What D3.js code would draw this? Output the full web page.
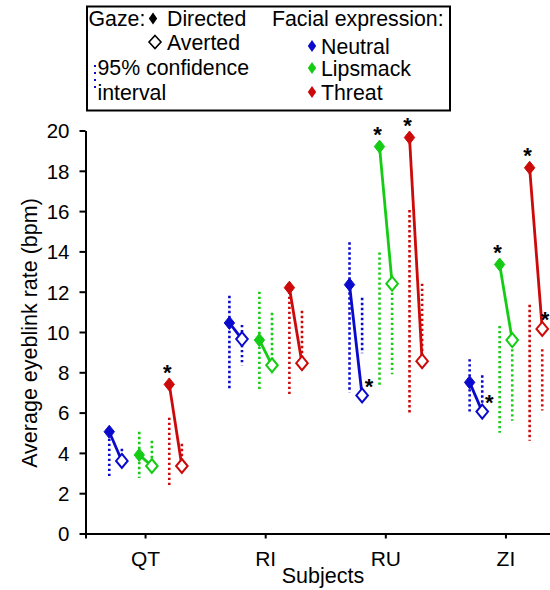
<!DOCTYPE html>
<html>
<head>
<meta charset="utf-8">
<script src="https://cdn.jsdelivr.net/npm/d3@7"></script>
<style>
  html, body { margin: 0; padding: 0; background: #fff; }
  svg { display: block; }
  text { font-family: "Liberation Sans", Arial, sans-serif; fill: #000; }
</style>
</head>
<body>
<svg id="chart" width="550" height="590"></svg>
<script>
// ---------- DATA ----------
const subjects = ["QT", "RI", "RU", "ZI"];
const expressions = ["Neutral", "Lipsmack", "Threat"];
const gazes = ["Directed", "Averted"];
const yTicks = [0, 2, 4, 6, 8, 10, 12, 14, 16, 18, 20];

const neutralDirected   = [5.05, 10.45, 12.35, 7.5];
const neutralAverted    = [3.6, 9.65, 6.85, 6.05];
const lipsmackDirected  = [3.9, 9.6, 19.2, 13.35];
const lipsmackAverted   = [3.35, 8.35, 12.4, 9.6];
const threatDirected    = [7.4, 12.2, 19.65, 18.15];
const threatAverted     = [3.35, 8.45, 8.55, 10.15];

const neutralDirectedCI  = [[2.8, 5.2], [7.2, 11.8], [7.0, 14.45], [6.0, 8.65]];
const neutralAvertedCI   = [[3.4, 4.2], [8.35, 10.35], [8.95, 11.7], [6.3, 7.85]];
const lipsmackDirectedCI = [[2.75, 5.05], [7.1, 12.0], [7.3, 13.95], [5.0, 10.3]];
const lipsmackAvertedCI  = [[3.2, 4.6], [7.95, 10.95], [7.9, 11.95], [5.6, 9.15]];
const threatDirectedCI   = [[2.3, 5.75], [6.9, 12.0], [6.0, 16.05], [4.6, 11.35]];
const threatAvertedCI    = [[3.3, 4.45], [8.3, 11.05], [8.6, 12.4], [6.1, 9.15]];

const significant = [
  ["QT", "Threat", "Directed"],
  ["RU", "Neutral", "Averted"],
  ["RU", "Lipsmack", "Directed"],
  ["RU", "Threat", "Directed"],
  ["ZI", "Neutral", "Averted"],
  ["ZI", "Lipsmack", "Directed"],
  ["ZI", "Threat", "Directed"],
  ["ZI", "Threat", "Averted"]
];

// ---------- BUILD TABLE ----------
const means = {
  Neutral: { Directed: neutralDirected, Averted: neutralAverted },
  Lipsmack: { Directed: lipsmackDirected, Averted: lipsmackAverted },
  Threat: { Directed: threatDirected, Averted: threatAverted }
};
const cis = {
  Neutral: { Directed: neutralDirectedCI, Averted: neutralAvertedCI },
  Lipsmack: { Directed: lipsmackDirectedCI, Averted: lipsmackAvertedCI },
  Threat: { Directed: threatDirectedCI, Averted: threatAvertedCI }
};
const colors = { Neutral: "#0a0acc", Lipsmack: "#14cc14", Threat: "#cc0a0a" };

const rows = [];
subjects.forEach((s, i) => {
  expressions.forEach(e => {
    gazes.forEach(g => {
      rows.push({ subject: s, expr: e, gaze: g, value: means[e][g][i], lo: cis[e][g][i][0], hi: cis[e][g][i][1] });
    });
  });
});

// ---------- SCALES ----------
const svg = d3.select("#chart");
const x = d3.scaleBand().domain(subjects).range([85.5, 566]);
const xExpr = d3.scalePoint().domain(expressions).range([-30, 30]);
const xGaze = d3.scalePoint().domain(gazes).range([-6.3, 6.3]);
const y = d3.scaleLinear().domain([0, 20]).range([533.5, 130.5]);

const px = d => x(d.subject) + x.bandwidth() / 2 + xExpr(d.expr) + xGaze(d.gaze);
const py = d => y(d.value);

function diamond(cx, cy, w, h) {
  return `M${cx},${cy - h}L${cx + w},${cy}L${cx},${cy + h}L${cx - w},${cy}Z`;
}

// ---------- AXES ----------
const yAxis = svg.append("g")
  .attr("transform", "translate(85.5,0)")
  .call(d3.axisLeft(y).tickValues(yTicks).tickSize(6).tickSizeOuter(0).tickPadding(10));
yAxis.selectAll("text").style("font-size", "20.5px").attr("dy", "0.36em");
yAxis.selectAll("path,line").attr("stroke", "#000").attr("stroke-width", 2);

const xAxis = svg.append("g")
  .attr("transform", "translate(0,533.5)")
  .call(d3.axisBottom(x).tickSize(5).tickSizeOuter(5));
xAxis.selectAll("text").style("font-size", "21px").attr("dy", null).attr("y", 32);
xAxis.selectAll("path,line").attr("stroke", "#000").attr("stroke-width", 2);

svg.append("text").attr("x", 323).attr("y", 583).attr("text-anchor", "middle")
  .style("font-size", "21.5px").text("Subjects");
svg.append("text").attr("transform", "translate(37,333) rotate(-90)").attr("text-anchor", "middle")
  .style("font-size", "21.5px").text("Average eyeblink rate (bpm)");

// ---------- MARKS ----------
const plot = svg.append("g");

// CIs
plot.selectAll("line.ci").data(rows).join("line")
  .attr("class", "ci")
  .attr("x1", px).attr("x2", px)
  .attr("y1", d => y(d.hi)).attr("y2", d => y(d.lo))
  .attr("stroke", d => colors[d.expr])
  .attr("stroke-width", 2.6)
  .attr("stroke-dasharray", "2.4,2.6");

// connecting lines
const pairs = [];
subjects.forEach(s => expressions.forEach(e => {
  const d0 = rows.find(r => r.subject === s && r.expr === e && r.gaze === "Directed");
  const d1 = rows.find(r => r.subject === s && r.expr === e && r.gaze === "Averted");
  pairs.push([d0, d1]);
}));
plot.selectAll("line.pair").data(pairs).join("line")
  .attr("class", "pair")
  .attr("x1", p => px(p[0])).attr("y1", p => py(p[0]))
  .attr("x2", p => px(p[1])).attr("y2", p => py(p[1]))
  .attr("stroke", p => colors[p[0].expr])
  .attr("stroke-width", 2.8);

// markers
plot.selectAll("path.mk").data(rows).join("path")
  .attr("class", "mk")
  .attr("d", d => d.gaze === "Directed" ? diamond(px(d), py(d), 5.2, 6.5) : diamond(px(d), py(d), 5.8, 7))
  .attr("fill", d => d.gaze === "Directed" ? colors[d.expr] : "#fff")
  .attr("stroke", d => colors[d.expr])
  .attr("stroke-width", d => d.gaze === "Directed" ? 1 : 2);

// significance asterisks
const sigRows = significant.map(([s, e, g]) => rows.find(r => r.subject === s && r.expr === e && r.gaze === g));
plot.selectAll("text.sig").data(sigRows).join("text")
  .attr("class", "sig")
  .attr("x", d => d.gaze === "Directed" ? px(d) - 2 : Math.min(px(d) + 7, 545))
  .attr("y", d => (d.gaze === "Directed" ? py(d) - 17 : py(d) - 14) + 12.5)
  .attr("text-anchor", "middle")
  .style("font-size", "22px").style("font-weight", "bold")
  .text("*");

// ---------- LEGEND ----------
const lg = svg.append("g");
lg.append("rect").attr("x", 87).attr("y", 6.5).attr("width", 363).attr("height", 104)
  .attr("fill", "#fff").attr("stroke", "#000").attr("stroke-width", 2);

const lfs = "21.3px";
lg.append("text").attr("x", 88.5).attr("y", 26).style("font-size", lfs).text("Gaze:");
lg.append("path").attr("d", diamond(153, 18.5, 4.2, 6)).attr("fill", "#000");
lg.append("text").attr("x", 167).attr("y", 26).style("font-size", lfs).text(gazes[0]);
lg.append("path").attr("d", diamond(155, 42, 6, 6.5)).attr("fill", "none").attr("stroke", "#000").attr("stroke-width", 1.6);
lg.append("text").attr("x", 167).attr("y", 50).style("font-size", lfs).text(gazes[1]);
lg.append("line").attr("x1", 95).attr("x2", 95).attr("y1", 65).attr("y2", 92)
  .attr("stroke", colors.Neutral).attr("stroke-width", 2).attr("stroke-dasharray", "2,5");
lg.append("text").attr("x", 97.5).attr("y", 75).style("font-size", lfs).text("95% confidence");
lg.append("text").attr("x", 97.5).attr("y", 100).style("font-size", lfs).text("interval");

lg.append("text").attr("x", 272).attr("y", 26).style("font-size", lfs).text("Facial expression:");
const legY = [46, 68, 92];
const legBase = [54, 76, 100];
expressions.forEach((e, i) => {
  lg.append("path").attr("d", diamond(312, legY[i], 4.2, 6)).attr("fill", colors[e]);
  lg.append("text").attr("x", 321).attr("y", legBase[i]).style("font-size", lfs).text(e);
});
</script>
</body>
</html>
